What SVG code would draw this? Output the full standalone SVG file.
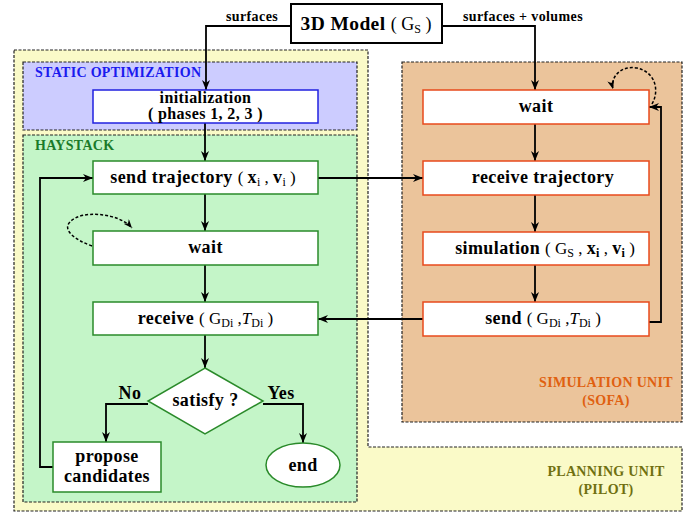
<svg xmlns="http://www.w3.org/2000/svg" width="697" height="513" viewBox="0 0 697 513">
<defs>
<marker id="ah" viewBox="0 0 10 8" refX="10" refY="4" markerWidth="10" markerHeight="8" markerUnits="userSpaceOnUse" orient="auto">
<path d="M0,0 L10,4 L0,8 L3,4 z" fill="#000"/>
</marker>
<marker id="ahs" viewBox="0 0 10 8" refX="10" refY="4" markerWidth="9" markerHeight="7" markerUnits="userSpaceOnUse" orient="auto">
<path d="M0,0 L10,4 L0,8 L3,4 z" fill="#000"/>
</marker>
<style>
.t{font-family:"Liberation Serif","DejaVu Serif",serif;font-weight:bold;font-size:18px;letter-spacing:0.4px;fill:#000}
.m{font-family:"Liberation Serif",serif;font-weight:normal;font-size:17px;letter-spacing:0}
.sub{font-size:12px;letter-spacing:0}
.lbl{font-family:"Liberation Serif",serif;font-weight:bold;font-size:14px;letter-spacing:0.4px;fill:#000}
.sec{font-family:"Liberation Serif",serif;font-weight:bold;font-size:14px;letter-spacing:0.3px}
.cont{stroke:#222;stroke-width:1.2;stroke-dasharray:3,1.5}
.hn{fill:#fff;stroke:#2a8a2a;stroke-width:1.5}
.sn{fill:#fff;stroke:#e84a1c;stroke-width:1.5}
.c{fill:none;stroke:#000;stroke-width:1.8}
.d{fill:none;stroke:#000;stroke-width:1.5;stroke-dasharray:3,2}
</style>
</defs>
<g id="planning-unit">
<path class="cont" d="M14,50 H368 V447 H682 V511 H14 Z" fill="#fafac8"/>
<text class="sec" fill="#707010" x="606" y="476" text-anchor="middle">PLANNING UNIT</text>
<text class="sec" fill="#707010" x="606" y="494" text-anchor="middle">(PILOT)</text>
</g>
<g id="static-optimization">
<rect class="cont" x="23" y="62" width="334" height="68" fill="#ccccff"/>
<text class="sec" fill="#1a1aee" x="35" y="77">STATIC OPTIMIZATION</text>
</g>
<g id="haystack">
<rect class="cont" x="23" y="135" width="334" height="367" fill="#c4f5c8"/>
<text class="sec" fill="#1a7a2a" x="35" y="150">HAYSTACK</text>
</g>
<g id="simulation-unit">
<rect class="cont" x="402" y="62" width="280" height="360" fill="#ebc49b"/>
<text class="sec" fill="#e06010" x="606" y="387" text-anchor="middle">SIMULATION UNIT</text>
<text class="sec" fill="#e06010" x="606" y="405" text-anchor="middle">(SOFA)</text>
</g>
<g id="connectors">
<path class="c" d="M291,26 H206 V90" marker-end="url(#ah)"/>
<path class="c" d="M442,26 H535 V90" marker-end="url(#ah)"/>
<path class="c" d="M205,123 V161" marker-end="url(#ah)"/>
<path class="c" d="M205,194 V231" marker-end="url(#ah)"/>
<path class="c" d="M205,265 V302" marker-end="url(#ah)"/>
<path class="c" d="M205,335 V368" marker-end="url(#ah)"/>
<path class="c" d="M148,404 H106 V442" marker-end="url(#ah)"/>
<path class="c" d="M263,404 H303 V443" marker-end="url(#ah)"/>
<path class="c" d="M53,467 H40 V178 H93" marker-end="url(#ah)"/>
<path class="c" d="M318,178 H423" marker-end="url(#ah)"/>
<path class="c" d="M423,319 H318" marker-end="url(#ah)"/>
<path class="c" d="M535,124 V161" marker-end="url(#ah)"/>
<path class="c" d="M535,195 V232" marker-end="url(#ah)"/>
<path class="c" d="M535,265 V302" marker-end="url(#ah)"/>
<path class="c" d="M649,322 H661 V107 H649" marker-end="url(#ah)"/>
<path class="d" d="M92,246 C75,240 62,230 70,222 C80,210 118,212 132,228" marker-end="url(#ahs)"/>
<path class="d" d="M652,104 C660,90 655,72 637,68 C620,65 610,78 613,89" marker-end="url(#ahs)"/>
<text class="lbl" x="252" y="21" text-anchor="middle">surfaces</text>
<text class="lbl" x="523" y="21" text-anchor="middle">surfaces + volumes</text>
<text class="t" x="130" y="399" text-anchor="middle">No</text>
<text class="t" x="281" y="399" text-anchor="middle">Yes</text>
</g>
<g id="model">
<rect x="291" y="4" width="151" height="39" fill="#fff" stroke="#000" stroke-width="2"/>
<text class="t" x="366" y="30" text-anchor="middle" style="font-size:19.5px">3D Model <tspan class="m" style="font-size:18px">( G<tspan class="sub" dy="3">S</tspan><tspan dy="-3"> )</tspan></tspan></text>
</g>
<g id="initialization">
<rect x="93" y="90" width="225" height="33" fill="#fff" stroke="#2020e0" stroke-width="1.5"/>
<text class="t" x="205.5" y="103" text-anchor="middle" style="font-size:16px">initialization</text>
<text class="t" x="205.5" y="119" text-anchor="middle" style="font-size:16px">( phases 1, 2, 3 )</text>
</g>
<g id="send-trajectory">
<rect class="hn" x="93" y="161" width="225" height="33"/>
<text class="t" x="203" y="183" text-anchor="middle">send trajectory <tspan class="m">( </tspan>x<tspan class="m sub" dy="3">i</tspan><tspan class="m" dy="-3"> , </tspan>v<tspan class="m sub" dy="3">i</tspan><tspan class="m" dy="-3"> )</tspan></text>
</g>
<g id="haystack-wait">
<rect class="hn" x="93" y="231" width="225" height="34"/>
<text class="t" x="205.5" y="253" text-anchor="middle">wait</text>
</g>
<g id="receive">
<rect class="hn" x="93" y="302" width="225" height="33"/>
<text class="t" x="205.5" y="324" text-anchor="middle">receive <tspan class="m">( G<tspan class="sub" dy="3">Di</tspan><tspan dy="-3"> ,</tspan><tspan font-style="italic">T</tspan><tspan class="sub" dy="3">Di</tspan><tspan dy="-3"> )</tspan></tspan></text>
</g>
<g id="satisfy">
<polygon class="hn" points="205,368 263,401 205,434 148,401"/>
<text class="t" x="205.5" y="406" text-anchor="middle">satisfy ?</text>
</g>
<g id="propose">
<rect class="hn" x="53" y="442" width="108" height="50"/>
<text class="t" x="107" y="462" text-anchor="middle">propose</text>
<text class="t" x="107" y="482" text-anchor="middle">candidates</text>
</g>
<g id="end">
<ellipse class="hn" cx="303" cy="465" rx="37" ry="22"/>
<text class="t" x="303" y="471" text-anchor="middle">end</text>
</g>
<g id="sim-wait">
<rect class="sn" x="423" y="90" width="226" height="34"/>
<text class="t" x="536" y="112" text-anchor="middle">wait</text>
</g>
<g id="receive-trajectory">
<rect class="sn" x="423" y="161" width="226" height="34"/>
<text class="t" x="543" y="183" text-anchor="middle">receive trajectory</text>
</g>
<g id="simulation">
<rect class="sn" x="423" y="232" width="226" height="33"/>
<text class="t" x="545" y="254" text-anchor="middle">simulation <tspan class="m">( G<tspan class="sub" dy="3">S</tspan><tspan dy="-3"> , </tspan></tspan>x<tspan class="sub" dy="3">i</tspan><tspan class="m" dy="-3"> , </tspan>v<tspan class="sub" dy="3">i</tspan><tspan class="m" dy="-3"> )</tspan></text>
</g>
<g id="send">
<rect class="sn" x="423" y="302" width="226" height="34"/>
<text class="t" x="543" y="324" text-anchor="middle">send <tspan class="m">( G<tspan class="sub" dy="3">Di</tspan><tspan dy="-3"> ,</tspan><tspan font-style="italic">T</tspan><tspan class="sub" dy="3">Di</tspan><tspan dy="-3"> )</tspan></tspan></text>
</g>
</svg>
